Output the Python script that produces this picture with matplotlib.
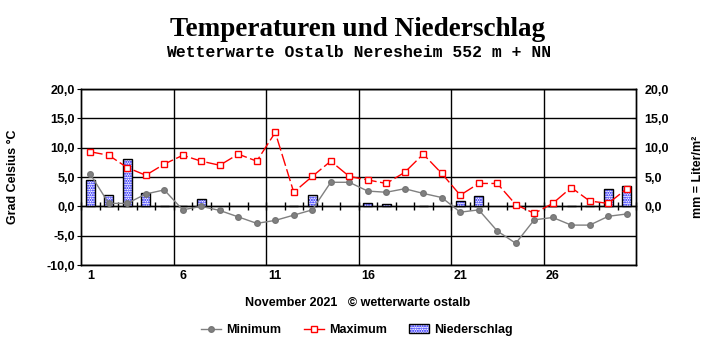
import numpy as np
import matplotlib
matplotlib.use("Agg")
import matplotlib.pyplot as plt
from matplotlib.lines import Line2D
from matplotlib.patches import Patch
from matplotlib.legend_handler import HandlerTuple

# November 2021, daily values
days = np.arange(1, 31)
t_min = [5.5, 0.5, 0.5, 2.1, 2.8, -0.6, 0.0, -0.7, -1.8, -2.9,
         -2.4, -1.5, -0.6, 4.1, 4.1, 2.6, 2.4, 3.0, 2.2, 1.5,
         -1.0, -0.6, -4.2, -6.3, -2.3, -1.9, -3.2, -3.2, -1.7, -1.3]
t_max = [9.3, 8.7, 6.6, 5.3, 7.2, 8.7, 7.7, 7.0, 8.9, 7.7,
         12.6, 2.4, 5.1, 7.7, 5.1, 4.5, 3.9, 5.8, 8.9, 5.6,
         1.9, 3.9, 3.9, 0.3, -1.2, 0.5, 3.2, 0.9, 0.5, 3.0]
rain = [4.5, 1.9, 8.0, 2.2, 0.1, 0.1, 1.2, 0.0, 0.0, 0.0,
        0.0, 0.1, 1.9, 0.0, 0.0, 0.5, 0.4, 0.0, 0.1, 0.0,
        0.9, 1.7, 0.0, 0.0, 0.0, 0.1, 0.1, 0.1, 3.0, 3.5]
day_labels = [1, 6, 11, 16, 21, 26]
temp_ticks = [-10, -5, 0, 5, 10, 15, 20]
rain_ticks = [0, 5, 10, 15, 20]

plt.rcParams['font.family'] = ['Liberation Sans', 'DejaVu Sans']
plt.rcParams['font.weight'] = 'bold'
plt.rcParams['hatch.linewidth'] = 1.0

BAR_HATCH = '.......'


def fmt(v):
    return f"{v:.1f}".replace('.', ',')


fig = plt.figure(figsize=(7.15, 3.52), dpi=100)
ax = fig.add_axes([81 / 715, 87 / 352, 555 / 715, 176 / 352])
ax.set_xlim(0.5, 30.5)
ax.set_ylim(-10, 20)

rain = np.array(rain)
wet = rain > 0
ax.bar(days[wet], rain[wet], width=0.5, facecolor='white', edgecolor='#0000ff',
       hatch=BAR_HATCH, linewidth=0, zorder=2)
ax.bar(days[wet], rain[wet], width=0.5, fill=False, edgecolor='black',
       linewidth=1, zorder=2.1)

ax.plot(days, t_min, color='#808080', lw=1, marker='o', ms=4,
        mfc='#808080', mec='#777777', zorder=3)
ax.plot(days, t_max, color='red', lw=1, ls=(0, (9, 2.5)), marker='s', ms=5,
        mfc='white', mec='red', mew=1, zorder=4)

# grid
ax.set_yticks(temp_ticks)
ax.set_yticklabels([fmt(v) for v in temp_ticks])
ax.grid(axis='y', color='black', lw=1)
ax.set_xticks(np.arange(5.5, 30, 5), minor=True)
ax.grid(axis='x', which='minor', color='black', lw=1)
ax.set_axisbelow(True)
ax.set_xticks(day_labels)
ax.set_xticklabels([str(d) for d in day_labels])
ax.tick_params(axis='x', which='both', length=0, pad=3.5, labelsize=9)
ax.tick_params(axis='y', direction='out', length=3, pad=1.5, labelsize=9)
for sp in ax.spines.values():
    sp.set_linewidth(1)

# zero line with day separators
sec = ax.secondary_xaxis(1 / 3)
sec.set_xticks(np.arange(0.5, 31, 1))
sec.tick_params(direction='inout', length=6, width=1, labelbottom=False, labeltop=False)
sec.spines['bottom'].set_linewidth(1)

ax.set_ylabel('Grad Celsius °C', fontsize=9, fontweight='bold')
ax.yaxis.set_label_coords(-0.112, 0.5)

ax2 = ax.twinx()
ax2.set_ylim(-10, 20)
ax2.set_yticks(rain_ticks)
ax2.set_yticklabels([fmt(v) for v in rain_ticks])
ax2.tick_params(axis='y', direction='in', length=3, pad=6, labelsize=9)
ax2.set_ylabel('mm = Liter/m²', fontsize=9, fontweight='bold')
ax2.yaxis.set_label_coords(1.101, 0.5)
for sp in ax2.spines.values():
    sp.set_linewidth(1)

fig.text(358 / 715, 1 - 36 / 352, 'Temperaturen und Niederschlag', ha='center',
         va='baseline', fontsize=19.5, fontweight='bold', family='Liberation Serif')
fig.text(359 / 715, 1 - 57 / 352, 'Wetterwarte Ostalb Neresheim 552 m + NN', ha='center',
         va='baseline', fontsize=11.8, fontweight='bold', family='Liberation Mono')
fig.text(357.5 / 715, 1 - 303 / 352, 'November 2021   © wetterwarte ostalb',
         ha='center', va='center', fontsize=9, fontweight='bold')

handles = [
    Line2D([], [], color='#808080', lw=1, marker='o', ms=4, mfc='#808080', mec='#777777'),
    Line2D([], [], color='red', lw=1, marker='s', ms=5, mfc='white', mec='red'),
    (Patch(facecolor='white', edgecolor='#0000ff', hatch=BAR_HATCH, lw=0),
     Patch(fill=False, edgecolor='black', lw=1)),
]
fig.legend(handles, ['Minimum', 'Maximum', 'Niederschlag'], loc='center',
           bbox_to_anchor=(357 / 715, 1 - 330 / 352), ncol=3, frameon=False,
           fontsize=9, handlelength=1.6, handletextpad=0.4, columnspacing=1.8,
           handler_map={tuple: HandlerTuple(ndivide=1)})

fig.savefig('out.png', dpi=100)
